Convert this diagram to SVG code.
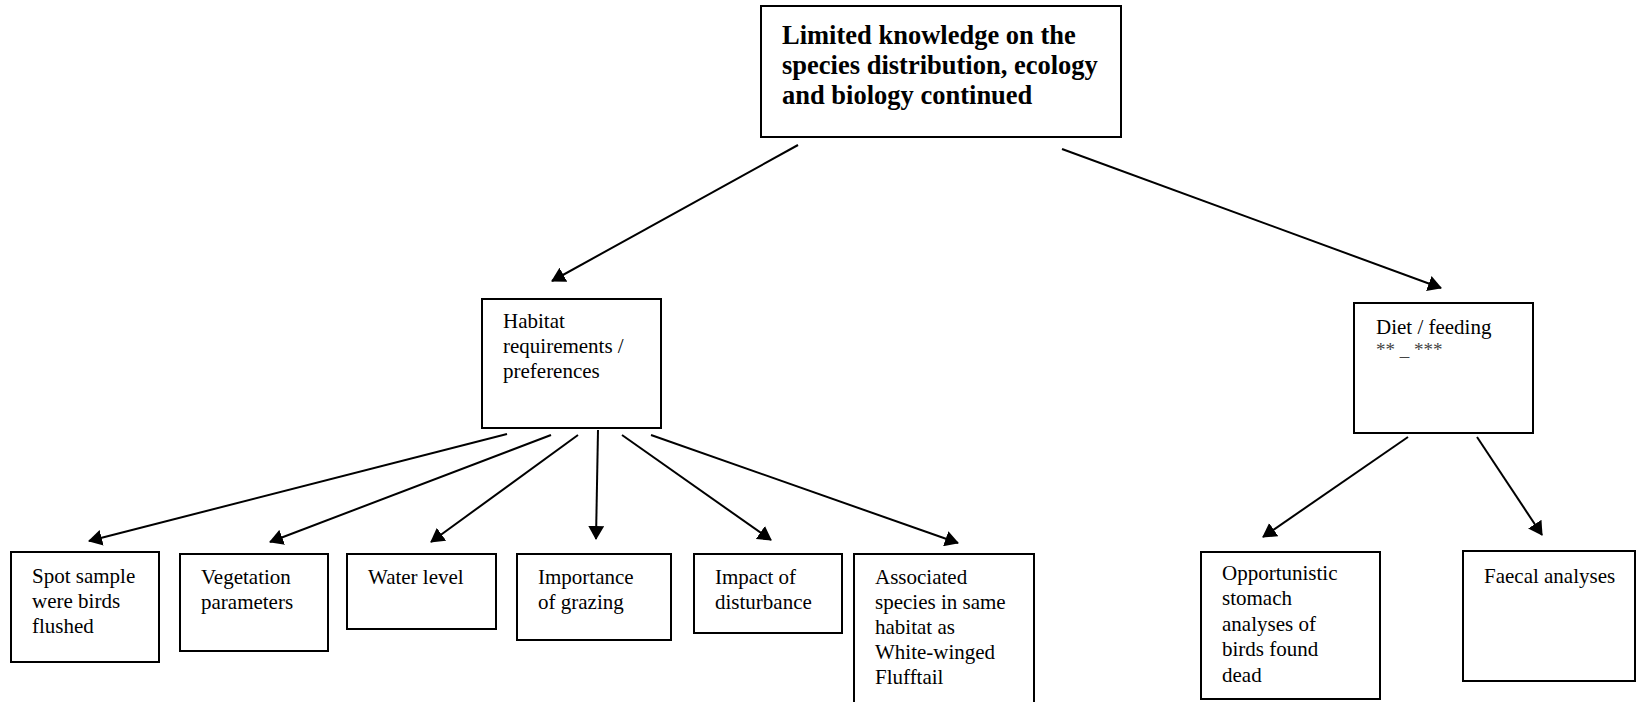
<svg xmlns="http://www.w3.org/2000/svg" width="1637" height="702" viewBox="0 0 1637 702">
  <style>
    .box { fill: #ffffff; stroke: #000000; stroke-width: 2; }
    .lbl { font-family: "Liberation Serif", "Times New Roman", serif; font-size: 21px; fill: #000000; }
    .title { font-family: "Liberation Serif", "Times New Roman", serif; font-size: 26.5px; font-weight: bold; fill: #000000; }
    .note { font-family: "Liberation Serif", "Times New Roman", serif; font-size: 19px; fill: #444444; }
    .link { stroke: #000000; stroke-width: 2; fill: none; marker-end: url(#head); }
  </style>
  <defs>
    <marker id="head" viewBox="0 0 14 16" refX="13" refY="8" markerWidth="14" markerHeight="16" markerUnits="userSpaceOnUse" orient="auto">
      <path d="M0,0 L14,8 L0,16 z" fill="#000000"/>
    </marker>
  </defs>
  <rect width="1637" height="702" fill="#ffffff"/>

  <g id="connectors">
    <line class="link" x1="798" y1="145" x2="552" y2="281"/>
    <line class="link" x1="1062" y1="149" x2="1441" y2="288"/>
    <line class="link" x1="507" y1="434" x2="89" y2="541"/>
    <line class="link" x1="551" y1="435" x2="270" y2="542"/>
    <line class="link" x1="578" y1="435" x2="431" y2="542"/>
    <line class="link" x1="598" y1="430" x2="596" y2="539"/>
    <line class="link" x1="622" y1="435" x2="771" y2="540"/>
    <line class="link" x1="651" y1="435" x2="958" y2="543"/>
    <line class="link" x1="1408" y1="437" x2="1263" y2="537"/>
    <line class="link" x1="1477" y1="437" x2="1542" y2="535"/>
  </g>

  <g id="root">
    <rect class="box" x="761" y="6" width="360" height="131"/>
    <text class="title" x="782" y="44">Limited knowledge on the</text>
    <text class="title" x="782" y="74">species distribution, ecology</text>
    <text class="title" x="782" y="104">and biology continued</text>
  </g>

  <g id="habitat">
    <rect class="box" x="482" y="299" width="179" height="129"/>
    <text class="lbl" x="503" y="328">Habitat</text>
    <text class="lbl" x="503" y="353">requirements /</text>
    <text class="lbl" x="503" y="378">preferences</text>
  </g>

  <g id="diet">
    <rect class="box" x="1354" y="303" width="179" height="130"/>
    <text class="lbl" x="1376" y="334">Diet / feeding</text>
    <text class="note" x="1376" y="356" xml:space="preserve">** _ ***</text>
  </g>

  <g id="spot-sample">
    <rect class="box" x="11" y="552" width="148" height="110"/>
    <text class="lbl" x="32" y="583">Spot sample</text>
    <text class="lbl" x="32" y="608">were birds</text>
    <text class="lbl" x="32" y="633">flushed</text>
  </g>

  <g id="vegetation">
    <rect class="box" x="180" y="554" width="148" height="97"/>
    <text class="lbl" x="201" y="584">Vegetation</text>
    <text class="lbl" x="201" y="609">parameters</text>
  </g>

  <g id="water-level">
    <rect class="box" x="347" y="554" width="149" height="75"/>
    <text class="lbl" x="368" y="584">Water level</text>
  </g>

  <g id="grazing">
    <rect class="box" x="517" y="554" width="154" height="86"/>
    <text class="lbl" x="538" y="584">Importance</text>
    <text class="lbl" x="538" y="609">of grazing</text>
  </g>

  <g id="disturbance">
    <rect class="box" x="694" y="554" width="148" height="79"/>
    <text class="lbl" x="715" y="584">Impact of</text>
    <text class="lbl" x="715" y="609">disturbance</text>
  </g>

  <g id="associated-species">
    <rect class="box" x="854" y="554" width="180" height="152"/>
    <text class="lbl" x="875" y="584">Associated</text>
    <text class="lbl" x="875" y="609">species in same</text>
    <text class="lbl" x="875" y="634">habitat as</text>
    <text class="lbl" x="875" y="659">White-winged</text>
    <text class="lbl" x="875" y="684">Flufftail</text>
  </g>

  <g id="stomach-analyses">
    <rect class="box" x="1201" y="552" width="179" height="147"/>
    <text class="lbl" x="1222" y="580">Opportunistic</text>
    <text class="lbl" x="1222" y="605">stomach</text>
    <text class="lbl" x="1222" y="631">analyses of</text>
    <text class="lbl" x="1222" y="656">birds found</text>
    <text class="lbl" x="1222" y="682">dead</text>
  </g>

  <g id="faecal-analyses">
    <rect class="box" x="1463" y="551" width="172" height="130"/>
    <text class="lbl" x="1484" y="583">Faecal analyses</text>
  </g>
</svg>
